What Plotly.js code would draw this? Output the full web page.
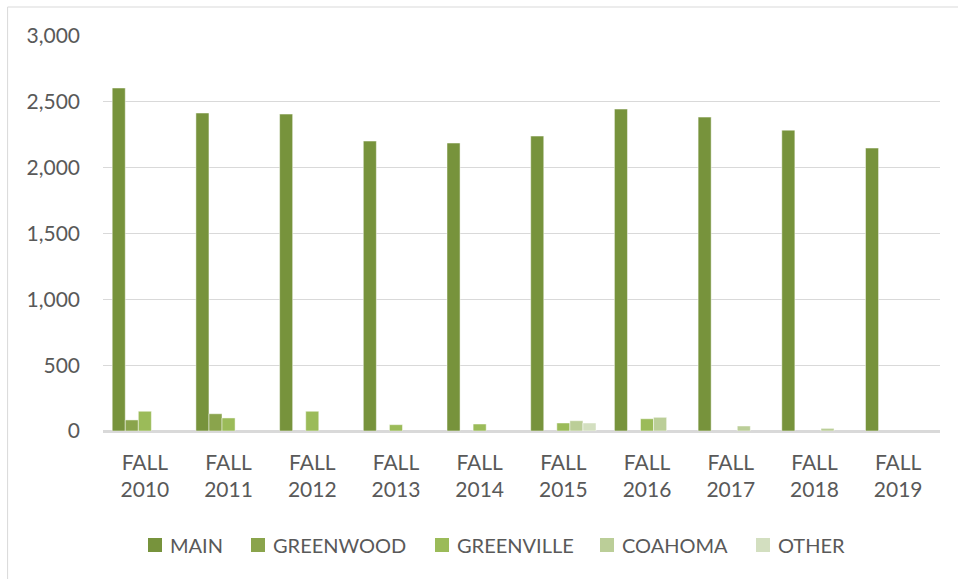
<!DOCTYPE html>
<html><head><meta charset="utf-8">
<script src="https://cdn.plot.ly/plotly-3.0.1.min.js"></script>
<style>html,body{margin:0;padding:0;background:#fff;}#chart{width:958px;height:579px;}</style>
</head><body><div id="chart"></div>
<script>
const categories = ["FALL<br>2010","FALL<br>2011","FALL<br>2012","FALL<br>2013","FALL<br>2014","FALL<br>2015","FALL<br>2016","FALL<br>2017","FALL<br>2018","FALL<br>2019"];
const main =       [2605, 2415, 2407, 2202, 2187, 2240, 2445, 2384, 2285, 2149];
const greenwood =  [84, 131, 0, 0, 0, 0, 0, 0, 0, 0];
const greenville = [150, 99, 150, 48, 53, 61, 93, 0, 0, 0];
const coahoma =    [0, 0, 0, 0, 0, 78, 104, 38, 20, 0];
const other =      [0, 0, 0, 0, 0, 61, 0, 0, 0, 0];
const seriesNames = ["MAIN","GREENWOOD","GREENVILLE","COAHOMA","OTHER"];
const seriesColors = ["#77933C","#8AA44C","#9BBB59","#BBCE98","#D3DFC0"];
const seriesValues = [main, greenwood, greenville, coahoma, other];

const traces = seriesValues.map((vals, i) => ({
  type: "bar",
  name: seriesNames[i],
  x: categories,
  y: vals.map(v => v === 0 ? null : v),
  marker: {color: seriesColors[i], line: {color: "rgba(255,255,255,0.6)", width: 0.8}},
  hoverinfo: "x+y+name"
}));

// custom legend layout (pixel positions of each swatch's left edge)
const plotL = 103, plotW = 837, plotB = 431, plotH = 395;
const legendLeftPx = [148, 251, 435, 600, 756];
const legendYpx = 545;
const py = (plotB - legendYpx) / plotH;
const shapes = [{type: "rect", xref: "paper", yref: "paper", x0: -0.114, x1: 1.2, y0: -0.4, y1: 1.0734,
            line: {color: "#d9d9d9", width: 1}, fillcolor: "rgba(0,0,0,0)", layer: "below"}];
const annotations = [];
seriesNames.forEach((n, i) => {
  const px = (legendLeftPx[i] - plotL) / plotW;
  shapes.push({type: "rect", xref: "paper", yref: "paper", xsizemode: "pixel", ysizemode: "pixel",
    xanchor: px, yanchor: py, x0: 0, x1: 14, y0: -7, y1: 7,
    fillcolor: seriesColors[i], line: {width: 0}});
  annotations.push({xref: "paper", yref: "paper", x: (legendLeftPx[i] + 20 - plotL) / plotW, y: py,
    xanchor: "left", yanchor: "middle", showarrow: false, text: n,
    font: {family: "Lato, 'Open Sans', sans-serif", size: 20, color: "#595959"}});
});

const font = {family: "Lato, 'Open Sans', sans-serif", size: 21, color: "#595959"};
const layout = {
  width: 958, height: 579,
  margin: {l: 103, r: 18, t: 36, b: 148},
  paper_bgcolor: "#fff", plot_bgcolor: "#fff",
  barmode: "group", bargap: 0.22, bargroupgap: 0,
  font: font,
  showlegend: false,
  xaxis: {showgrid: false, showline: true, linecolor: "#d9d9d9", linewidth: 1.5, ticks: "", tickfont: font,
          ticklabelstandoff: 12, fixedrange: true},
  yaxis: {range: [0, 3000], dtick: 500, tickformat: ",d", showgrid: true, gridcolor: "#d9d9d9", gridwidth: 1,
          zeroline: true, zerolinecolor: "#d9d9d9", zerolinewidth: 1.5, showline: false, ticks: "",
          ticklabelstandoff: 22, tickfont: font, fixedrange: true},
  shapes: shapes,
  annotations: annotations
};
Plotly.newPlot("chart", traces, layout, {displayModeBar: false, staticPlot: true});
</script></body></html>
